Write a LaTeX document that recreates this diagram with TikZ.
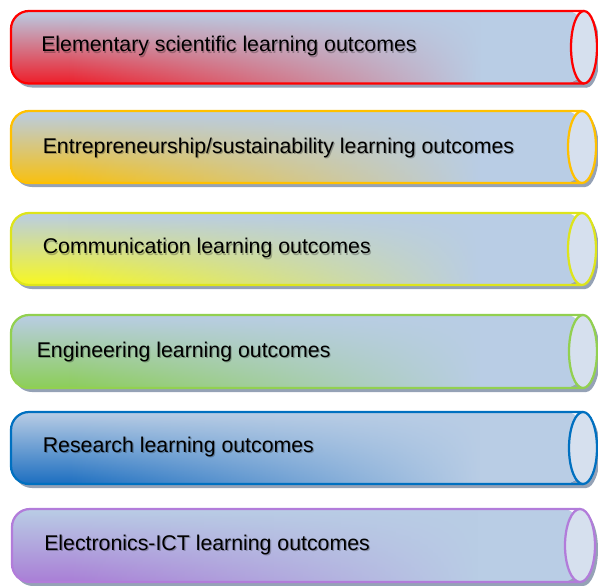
\documentclass[tikz,border=0pt]{standalone}
\usepackage{fontspec}
\setmainfont{Liberation Sans}
\usepackage{tikz}
\usetikzlibrary{fadings}

\definecolor{tubeblue}{HTML}{B9CDE5}
\definecolor{endface}{HTML}{D6E0EE}
\definecolor{shadowgrey}{HTML}{95A2B6}
\definecolor{redline}{HTML}{FF0000}
\definecolor{redfill}{HTML}{EE1E2A}
\definecolor{goldline}{HTML}{FFC000}
\definecolor{goldfill}{HTML}{F8C010}
\definecolor{yellowline}{HTML}{DDE41C}
\definecolor{yellowfill}{HTML}{F8F820}
\definecolor{greenline}{HTML}{92D050}
\definecolor{greenfill}{HTML}{8CCE58}
\definecolor{blueline}{HTML}{0070C0}
\definecolor{bluefill}{HTML}{1C6EC0}
\definecolor{purpleline}{HTML}{B27CDA}
\definecolor{purplefill}{HTML}{A97ED6}

\pgfdeclarehorizontalshading{tubemask}{100bp}{color(0bp)=(transparent!100); color(30bp)=(transparent!100); color(66bp)=(transparent!0); color(100bp)=(transparent!0)}
\tikzfading[name=tubefade, shading=tubemask]

\tikzset{
	tubeline/.style={line width=1.6pt},
	tubeshadow/.style={fill=shadowgrey, shift={(3,4)}},
	tubeglow/.style={fill=tubeblue, path fading=tubefade},
	tubeend/.style={fill=endface, line width=1.6pt},
	tubetext/.style={anchor=base west, inner sep=0pt, font=\fontsize{15.15}{18}\selectfont},
	textshadow/.style={tubetext, text=black, opacity=0.25, shift={(1.2,1.6)}},
}

\begin{document}
\begin{tikzpicture}[x=0.025cm, y=-0.025cm]
	\useasboundingbox (0,0) rectangle (598,585);

	% Elementary (red)
	\fill [tubeshadow, rounded corners=0.45cm] (584,11) -- (11,11) -- (11,83.5) -- (584,83.5);
	\fill [tubeshadow] (584,47.25) ellipse [x radius=13, y radius=36.25];
	\shade [top color=tubeblue, middle color=redfill!50!tubeblue, bottom color=redfill, rounded corners=0.45cm] (584,11) -- (11,11) -- (11,83.5) -- (584,83.5) -- cycle;
	\fill [tubeglow, rounded corners=0.45cm] (584,11) -- (11,11) -- (11,83.5) -- (584,83.5) -- cycle;
	\draw [redline, tubeline, rounded corners=0.45cm] (584,11) -- (11,11) -- (11,83.5) -- (584,83.5);
	\draw [redline, tubeend] (584,47.25) ellipse [x radius=13, y radius=36.25];
	\node [textshadow] (elemshadow) at (41,51.7) {Elementary scientific learning outcomes};
	\node [tubetext] (elem) at (41,51.7) {Elementary scientific learning outcomes};

	% Entrepreneurship (gold)
	\fill [tubeshadow, rounded corners=0.45cm] (582,111) -- (11,111) -- (11,183) -- (582,183);
	\fill [tubeshadow] (582,147) ellipse [x radius=14, y radius=36];
	\shade [top color=tubeblue, middle color=goldfill!50!tubeblue, bottom color=goldfill, rounded corners=0.45cm] (582,111) -- (11,111) -- (11,183) -- (582,183) -- cycle;
	\fill [tubeglow, rounded corners=0.45cm] (582,111) -- (11,111) -- (11,183) -- (582,183) -- cycle;
	\draw [goldline, tubeline, rounded corners=0.45cm] (582,111) -- (11,111) -- (11,183) -- (582,183);
	\draw [goldline, tubeend] (582,147) ellipse [x radius=14, y radius=36];
	\node [textshadow] (entrshadow) at (42.5,153.3) {Entrepreneurship/sustainability learning outcomes};
	\node [tubetext] (entr) at (42.5,153.3) {Entrepreneurship/sustainability learning outcomes};

	% Communication (yellow)
	\fill [tubeshadow, rounded corners=0.45cm] (582,213) -- (11,213) -- (11,285) -- (582,285);
	\fill [tubeshadow] (582,249) ellipse [x radius=14, y radius=36];
	\shade [top color=tubeblue, middle color=yellowfill!50!tubeblue, bottom color=yellowfill, rounded corners=0.45cm] (582,213) -- (11,213) -- (11,285) -- (582,285) -- cycle;
	\fill [tubeglow, rounded corners=0.45cm] (582,213) -- (11,213) -- (11,285) -- (582,285) -- cycle;
	\draw [yellowline, tubeline, rounded corners=0.45cm] (582,213) -- (11,213) -- (11,285) -- (582,285);
	\draw [yellowline, tubeend] (582,249) ellipse [x radius=14, y radius=36];
	\node [textshadow] (commshadow) at (42.5,253.5) {Communication learning outcomes};
	\node [tubetext] (comm) at (42.5,253.5) {Communication learning outcomes};

	% Engineering (green)
	\fill [tubeshadow, rounded corners=0.45cm] (583,315) -- (11,315) -- (11,388) -- (583,388);
	\fill [tubeshadow] (583,351.5) ellipse [x radius=14, y radius=36.5];
	\shade [top color=tubeblue, middle color=greenfill!50!tubeblue, bottom color=greenfill, rounded corners=0.45cm] (583,315) -- (11,315) -- (11,388) -- (583,388) -- cycle;
	\fill [tubeglow, rounded corners=0.45cm] (583,315) -- (11,315) -- (11,388) -- (583,388) -- cycle;
	\draw [greenline, tubeline, rounded corners=0.45cm] (583,315) -- (11,315) -- (11,388) -- (583,388);
	\draw [greenline, tubeend] (583,351.5) ellipse [x radius=14, y radius=36.5];
	\node [textshadow] (engshadow) at (36.5,357.2) {Engineering learning outcomes};
	\node [tubetext] (eng) at (36.5,357.2) {Engineering learning outcomes};

	% Research (blue)
	\fill [tubeshadow, rounded corners=0.45cm] (583,412) -- (11,412) -- (11,484) -- (583,484);
	\fill [tubeshadow] (583,448) ellipse [x radius=14, y radius=36];
	\shade [top color=tubeblue, middle color=bluefill!50!tubeblue, bottom color=bluefill, rounded corners=0.45cm] (583,412) -- (11,412) -- (11,484) -- (583,484) -- cycle;
	\fill [tubeglow, rounded corners=0.45cm] (583,412) -- (11,412) -- (11,484) -- (583,484) -- cycle;
	\draw [blueline, tubeline, rounded corners=0.45cm] (583,412) -- (11,412) -- (11,484) -- (583,484);
	\draw [blueline, tubeend] (583,448) ellipse [x radius=14, y radius=36];
	\node [textshadow] (resshadow) at (42.5,452) {Research learning outcomes};
	\node [tubetext] (res) at (42.5,452) {Research learning outcomes};

	% Electronics-ICT (purple)
	\fill [tubeshadow, rounded corners=0.45cm] (580,509) -- (12,509) -- (12,582) -- (580,582);
	\fill [tubeshadow] (580,545.5) ellipse [x radius=15, y radius=36.5];
	\shade [top color=tubeblue, middle color=purplefill!50!tubeblue, bottom color=purplefill, rounded corners=0.45cm] (580,509) -- (12,509) -- (12,582) -- (580,582) -- cycle;
	\fill [tubeglow, rounded corners=0.45cm] (580,509) -- (12,509) -- (12,582) -- (580,582) -- cycle;
	\draw [purpleline, tubeline, rounded corners=0.45cm] (580,509) -- (12,509) -- (12,582) -- (580,582);
	\draw [purpleline, tubeend] (580,545.5) ellipse [x radius=15, y radius=36.5];
	\node [textshadow] (elecshadow) at (44,550) {Electronics-ICT learning outcomes};
	\node [tubetext] (elec) at (44,550) {Electronics-ICT learning outcomes};
\end{tikzpicture}
\end{document}
